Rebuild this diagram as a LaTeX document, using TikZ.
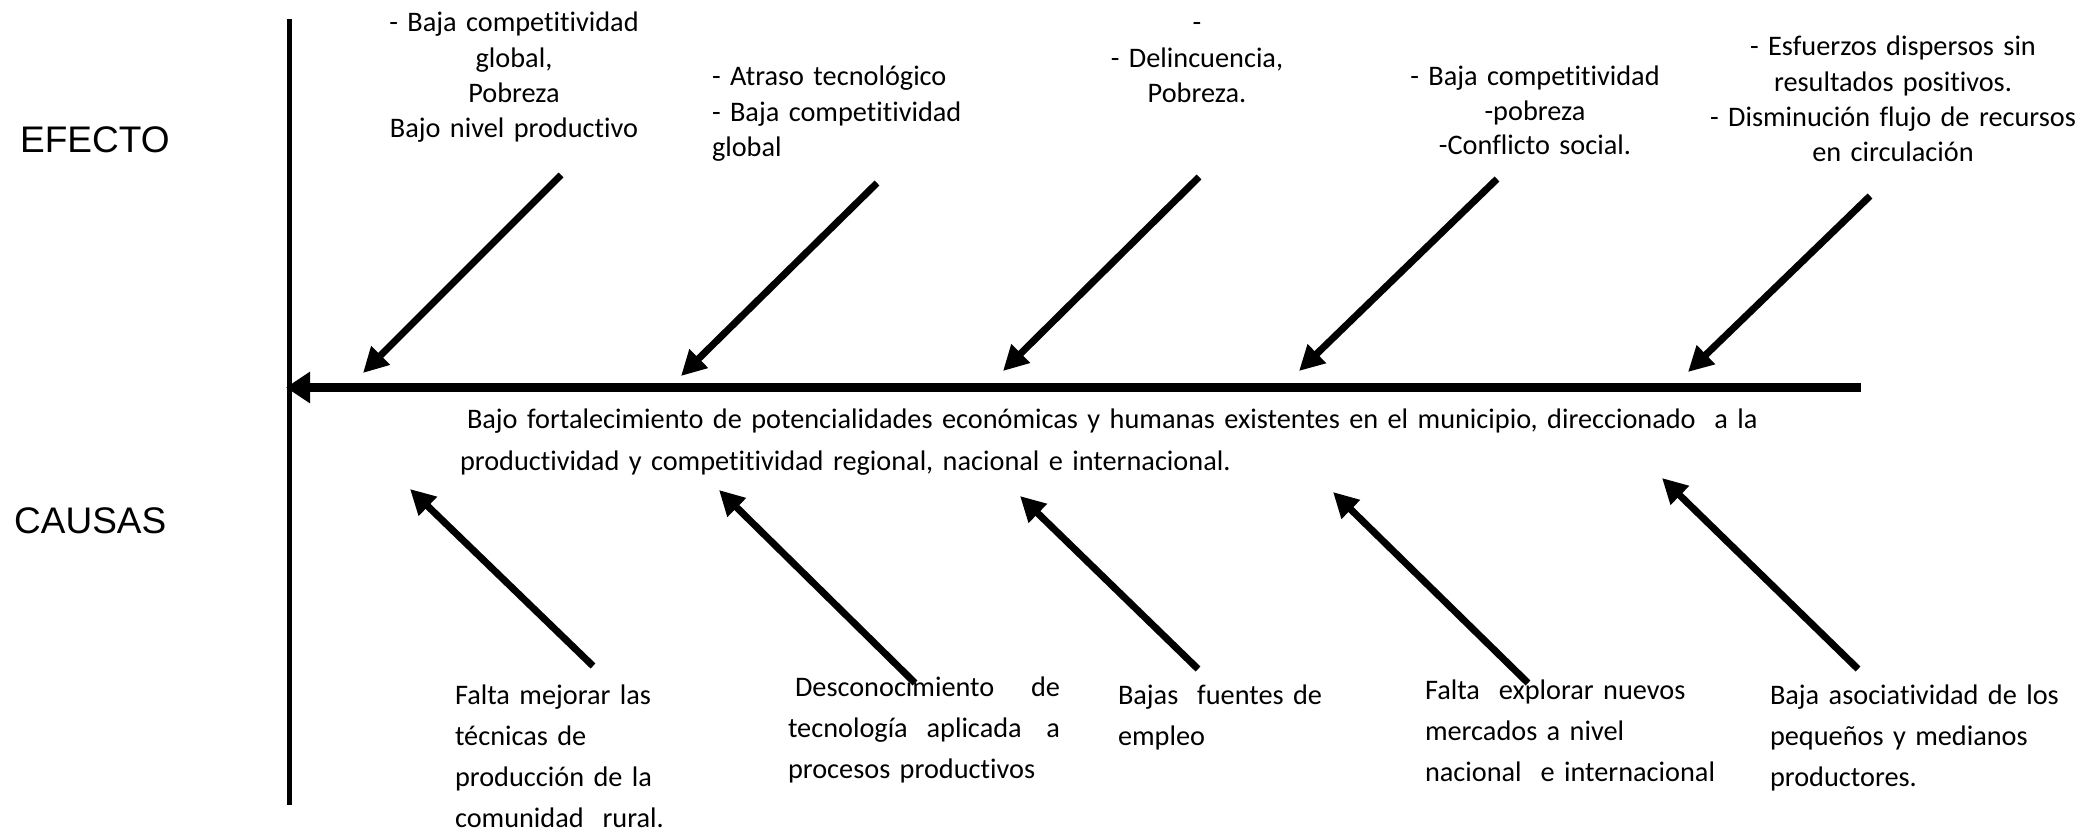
\documentclass[tikz,border=0pt]{standalone}
\usepackage{fontspec}
\setmainfont{Carlito}[Ligatures=NoCommon]
\newfontfamily\arialf{Liberation Sans}
\usetikzlibrary{arrows.meta}
\hyphenpenalty=10000
\exhyphenpenalty=10000
\begin{document}
\begin{tikzpicture}[x=1pt,y=-1pt,
  txt/.style={font=\fontsize{28.3}{35.3}\selectfont, inner sep=0pt, outer sep=0pt},
  ctxt/.style={txt, anchor=base, align=center},
  ltxt/.style={txt, anchor=base west, align=left},
  cause/.style={font=\fontsize{28.3}{41}\selectfont, inner sep=0pt, outer sep=0pt, anchor=base west, align=left},
  head/.style={font=\arialf\fontsize{37}{44}\selectfont, inner sep=0pt, anchor=base west},
  bone/.style={line width=7pt, line cap=butt, -{Triangle[length=25pt,width=25pt]}},
  spinestyle/.style={line width=9pt, line cap=butt, -{Triangle[length=24pt,width=30pt]}},
  axisline/.style={line width=5pt}
]
\fill[white] (0,0) rectangle (2090,832);
\useasboundingbox (0,0) rectangle (2090,832);

% labels
\node[head] (efecto) at (20,152) {EFECTO};
\node[head] (causas) at (14,533) {CAUSAS};

% vertical axis and spine
\coordinate (vtop) at (289,19);
\coordinate (vbot) at (289,805);
\draw[axisline] (vtop) -- (vbot);
\coordinate (spR) at (1861,387.5);
\coordinate (spL) at (286,387.5);
\draw[spinestyle] (spR) -- (spL);

% effects
\node[ctxt, text width=360pt] (e1) at (514,32) {- Baja competitividad\\global,\\Pobreza\\Bajo nivel productivo};
\node[ltxt, text width=340pt] (e2) at (712,86) {- Atraso tecnológico\\- Baja competitividad\\global};
\node[ctxt, text width=300pt] (e3) at (1197,32) {-\\- Delincuencia,\\Pobreza.};
\node[ctxt, text width=340pt, font=\fontsize{28.3}{34.5}\selectfont] (e4) at (1535,86) {- Baja competitividad\\-pobreza\\-Conflicto social.};
\node[ctxt, text width=376pt] (e5) at (1893,56) {- Esfuerzos dispersos sin\\resultados positivos.\\- Disminución flujo de recursos\\en circulación};

% problem
\node[cause, text width=1500pt, font=\fontsize{28.3}{42}\selectfont] (prob) at (460,428) {\hspace*{7pt}Bajo fortalecimiento de potencialidades económicas y humanas existentes en el municipio, direccionado\ \ a la\\productividad y competitividad regional, nacional e internacional.};

% causes
\node[cause, text width=300pt] (c1) at (455,704) {Falta mejorar las\\técnicas de\\producción de la\\comunidad\ \ rural.};
\node[cause, text width=272pt] (c2) at (788,696) {\hspace*{7pt}Desconocimiento\hfill de\\tecnología\ \ aplicada\hfill a\\procesos productivos};
\node[cause, text width=300pt] (c3) at (1118,704) {Bajas\ \ fuentes de\\empleo};
\node[cause, text width=340pt] (c4) at (1425,699) {Falta\ \ explorar nuevos\\mercados a nivel\\nacional\ \ e internacional};
\node[cause, text width=318pt] (c5) at (1770,704) {Baja asociatividad de los\\pequeños y medianos\\productores.};

% effect arrows
\coordinate (t1s) at (561,175);  \coordinate (t1e) at (363,373);
\coordinate (t2s) at (877,183);  \coordinate (t2e) at (681,376);
\coordinate (t3s) at (1199,177); \coordinate (t3e) at (1003,371);
\coordinate (t4s) at (1497,179); \coordinate (t4e) at (1299,371);
\coordinate (t5s) at (1870,196); \coordinate (t5e) at (1688,372);
\foreach \i in {1,...,5}{\draw[bone] (t\i s) -- (t\i e);}

% cause arrows
\coordinate (b1s) at (593,666);  \coordinate (b1e) at (410,489);
\coordinate (b2s) at (915,683);  \coordinate (b2e) at (719,490);
\coordinate (b3s) at (1198,669); \coordinate (b3e) at (1020,496);
\coordinate (b4s) at (1528,683); \coordinate (b4e) at (1333,492);
\coordinate (b5s) at (1858,669); \coordinate (b5e) at (1662,478);
\foreach \i in {1,...,5}{\draw[bone] (b\i s) -- (b\i e);}
\end{tikzpicture}
\end{document}
